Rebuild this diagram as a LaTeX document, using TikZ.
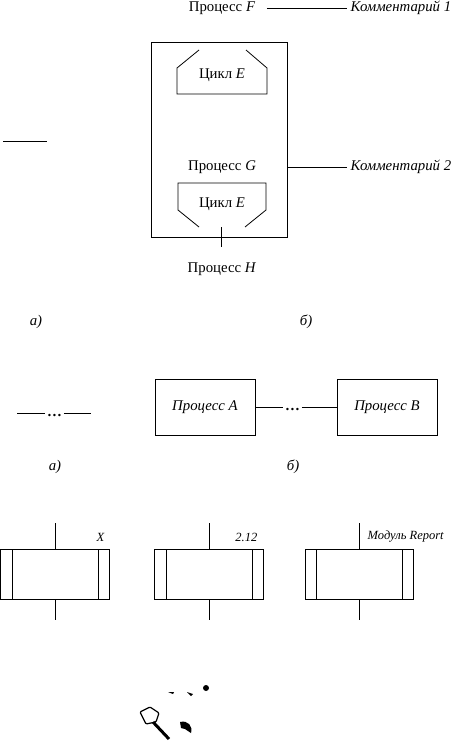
\documentclass[tikz,border=0pt]{standalone}
\usepackage{fontspec}
\setmainfont{Liberation Serif}
\usetikzlibrary{positioning}
\begin{document}
\begin{tikzpicture}[x=1pt,y=-1pt,line width=0.8pt,
    every node/.style={font=\fontsize{14.8}{17}\selectfont},
    lbl/.style={font=\fontsize{14.8}{17}\selectfont\itshape},
    modlbl/.style={font=\fontsize{12.5}{14}\selectfont\itshape},
    dotsnode/.style={inner sep=1.5pt,text height=2pt,text depth=0pt,font=\fontsize{14.8}{17}\selectfont\bfseries},
    procbox/.style={draw,minimum width=100pt,minimum height=56pt,font=\fontsize{14.8}{17}\selectfont\itshape}]
    \useasboundingbox (0,0) rectangle (454,741);
    % Process G with loops
    \node (procF) at (222,8) {Процесс \textit{F}};
    \node[lbl,anchor=west] (comm1) at (347,8) {Комментарий 1};
    \draw ([xshift=8pt]procF.east) -- (comm1.west);
    \node[draw,minimum width=136pt,minimum height=195pt] (procG) at (219,139.5) {};
    \node (procGtxt) at (222,167) {Процесс \textit{G}};
    \node[lbl,anchor=west] (comm2) at (347,167) {Комментарий 2};
    \draw (procG.east |- comm2) -- (comm2.west);
    \draw (3,141) -- (47,141);
    % Loop on top
    \draw (199,50) -- (177,68) -- (177,94) -- (267,94) -- (267,68) -- (246,50);
    \node (loopTop) at (222,75) {Цикл \textit{E}};
    % Loop on bottom
    \draw (199,227) -- (178,210) -- (178,183) -- (266,183) -- (266,210) -- (245,227);
    \node (loopBot) at (222,204) {Цикл \textit{E}};
    \node (procH) at (222,269) {Процесс \textit{H}};
    \draw (221,227) -- (221,247);
    \node[lbl] (capA1) at (36,322) {а)};
    \node[lbl] (capB1) at (306,322) {б)};
    % Dotted connectors
    \node[dotsnode] (dotsL) at (54.5,413) {\raisebox{-2pt}{\dots}};
    \draw (17,413) -- (dotsL.west);
    \draw (dotsL.east) -- (91,413);
    \node[procbox] (procA) at (205,407) {Процесс A};
    \node[procbox] (procB) at (387,407) {Процесс B};
    \node[dotsnode] (dotsAB) at (292.5,407) {\raisebox{-2pt}{\dots}};
    \draw (procA.east) -- (dotsAB.west);
    \draw (dotsAB.east) -- (procB.west);
    \node[lbl] (capA2) at (55,467) {а)};
    \node[lbl] (capB2) at (293,467) {б)};
    % Modules
    \begin{scope}[xshift=0pt]
        \draw (0,549) rectangle (109,599);
        \draw (12,549) -- (12,599);
        \draw (98,549) -- (98,599);
        \draw (55,523) -- (55,549);
        \draw (55,599) -- (55,620);
        \node[modlbl,anchor=east] (modX) at (108,537) {X};
    \end{scope}
    \begin{scope}[xshift=154pt]
        \draw (0,549) rectangle (109,599);
        \draw (12,549) -- (12,599);
        \draw (98,549) -- (98,599);
        \draw (55,523) -- (55,549);
        \draw (55,599) -- (55,620);
        \node[modlbl,anchor=east] (modNum) at (107,537) {2.12};
    \end{scope}
    \begin{scope}[xshift=305pt]
        \draw (0,549) rectangle (108,599);
        \draw (11,549) -- (11,599);
        \draw (97,549) -- (97,599);
        \draw (54,523) -- (54,549);
        \draw (54,599) -- (54,620);
        \node[modlbl,anchor=west] (modRep) at (59,537) {Модуль Report};
    \end{scope}
    % Marks at the bottom
    \fill (206,688) circle (3);
    \fill (168,692) -- (174,692) -- (173,694) -- cycle;
    \fill (187,692) -- (193,694) -- (191,696) -- cycle;
    \draw[line width=1.2pt,rounded corners=1pt] (140,712) -- (150,707) -- (159,713) -- (156,722) -- (146,724) -- cycle;
    \draw[line width=3pt] (153,722) -- (169,739);
    \fill (180,722) .. controls (188,720) and (193,726) .. (191,733) -- (185,729) -- (181,728) -- cycle;
\end{tikzpicture}
\end{document}
